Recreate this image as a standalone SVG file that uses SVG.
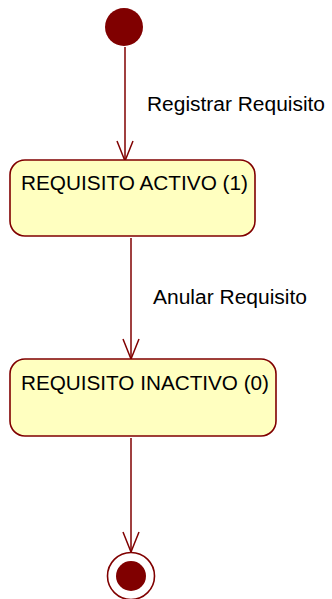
<svg xmlns="http://www.w3.org/2000/svg" width="332" height="599" viewBox="0 0 332 599">
<style>
.state{fill:#ffffc0;stroke:#800000;stroke-width:1.6}
.conn{stroke:#800000;stroke-width:1.5;fill:none}
.lbl{font-family:"Liberation Sans",Arial,sans-serif;font-size:20px;fill:#000}
</style>
<defs>
<marker id="arr" markerUnits="userSpaceOnUse" markerWidth="24" markerHeight="20" refX="21" refY="9" orient="auto" viewBox="0 0 24 18">
<path d="M1,1 L21,9 L1,17" fill="none" stroke="#800000" stroke-width="1.5"/>
</marker>
</defs>
<rect width="332" height="599" fill="#fff"/>
<g id="connectors">
<line class="conn" x1="125" y1="47" x2="125" y2="161" marker-end="url(#arr)"/>
<line class="conn" x1="131" y1="238" x2="131" y2="359" marker-end="url(#arr)"/>
<line class="conn" x1="131" y1="438" x2="131" y2="552" marker-end="url(#arr)"/>
<text class="lbl" x="147" y="111" textLength="178" lengthAdjust="spacingAndGlyphs">Registrar Requisito</text>
<text class="lbl" x="153" y="304" textLength="154" lengthAdjust="spacingAndGlyphs">Anular Requisito</text>
</g>
<g id="initial">
<circle cx="124" cy="27" r="19" fill="#800000"/>
</g>
<g id="activo">
<rect class="state" x="10" y="160" width="245" height="76" rx="15" ry="15"/>
<text class="lbl" x="21" y="190" textLength="227" lengthAdjust="spacingAndGlyphs">REQUISITO ACTIVO (1)</text>
</g>
<g id="inactivo">
<rect class="state" x="10" y="359" width="266" height="77" rx="15" ry="15"/>
<text class="lbl" x="21" y="390" textLength="248" lengthAdjust="spacingAndGlyphs">REQUISITO INACTIVO (0)</text>
</g>
<g id="final">
<circle cx="131" cy="576" r="23.5" fill="#fff" stroke="#800000" stroke-width="1.6"/>
<circle cx="131" cy="576" r="15" fill="#800000"/>
</g>
</svg>
